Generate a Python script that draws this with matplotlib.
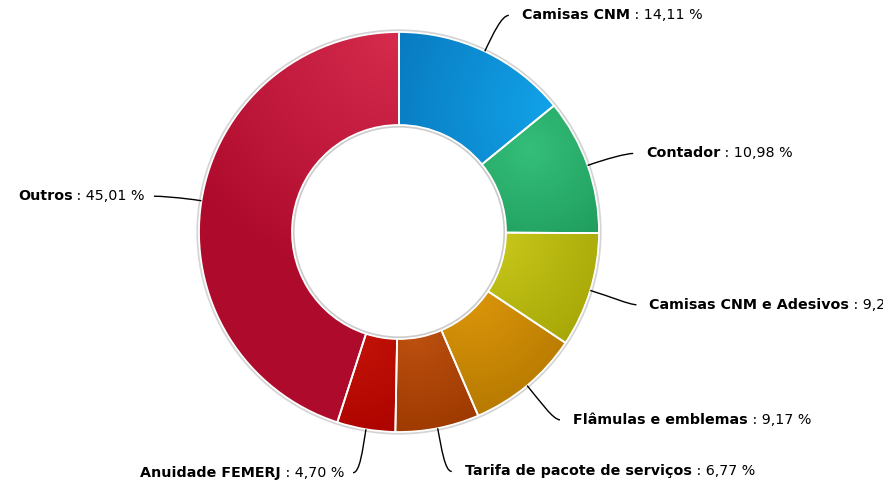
import numpy as np
import matplotlib
matplotlib.use("Agg")
import matplotlib.pyplot as plt
from matplotlib.colors import to_rgb
from matplotlib.patches import PathPatch, Circle
from matplotlib.path import Path

# data
categories = ["Camisas CNM", "Contador", "Camisas CNM e Adesivos",
              "Flâmulas e emblemas", "Tarifa de pacote de serviços",
              "Anuidade FEMERJ", "Outros"]
shares = [14.11, 10.98, 9.26, 9.17, 6.77, 4.70, 45.01]

# style: each slice shades from a light spot to a darker tone
light_colors = ["#12a4ea", "#34be7a", "#cac91c", "#dc960a", "#bc5010", "#c41408", "#d62c4e"]
dark_colors = ["#0878be", "#1f9c5c", "#a4a506", "#b47800", "#9e3a00", "#ae0400", "#ae0a2c"]
glow_spots = [(560, 110), (530, 150), (490, 235), (470, 295), (415, 335), (350, 335), (400, 30)]
glow_reach = [190, 110, 140, 130, 100, 100, 260]

W, H = 883, 487
cx, cy = 399, H - 232
r_out, r_in = 200, 107

fig = plt.figure(figsize=(W / 100, H / 100), dpi=100)
ax = fig.add_axes([0, 0, 1, 1])

wedges, _ = ax.pie(shares, center=(cx, cy), radius=r_out, startangle=90,
                   counterclock=False, colors=light_colors,
                   wedgeprops=dict(width=r_out - r_in, linewidth=0, zorder=1))

# soft shadow rings around the donut
ax.add_patch(Circle((cx, cy), r_out + 0.8, fill=False, ec="#d4d4d4", lw=2.6, zorder=0))
ax.add_patch(Circle((cx, cy), r_in - 0.8, fill=False, ec="#cccccc", lw=2.6, zorder=0))

xs = np.arange(W) + 0.5
ys = np.arange(H) + 0.5
X, Y = np.meshgrid(xs, ys)
for w, lc, dc, (gx, gy), reach in zip(wedges, light_colors, dark_colors, glow_spots, glow_reach):
    t = np.clip(np.hypot(X - gx, Y - (H - gy)) / reach, 0, 1)[..., None]
    img = np.array(to_rgb(lc)) * (1 - t) + np.array(to_rgb(dc)) * t
    im = ax.imshow(img, extent=(0, W, 0, H), origin="lower", zorder=2,
                   interpolation="bilinear")
    im.set_clip_path(w)
    ax.add_patch(PathPatch(w.get_path(), fc="none", ec="white", lw=1.3, zorder=3))

ax.set_xlim(0, W)
ax.set_ylim(0, H)
ax.axis("off")

# labels with soft connectors
fig.canvas.draw()
renderer = fig.canvas.get_renderer()
edges = np.cumsum([0] + shares) / sum(shares) * 360
r_lab = r_out + 42
font = dict(fontsize=10.3, color="black", va="center", zorder=5)
for name, val, a0, a1 in zip(categories, shares, edges[:-1], edges[1:]):
    th = np.deg2rad((a0 + a1) / 2)
    s = 1 if np.sin(th) >= 0 else -1
    ex, ey = cx + r_out * np.sin(th), cy + r_out * np.cos(th)
    lx, ly = cx + r_lab * np.sin(th), cy + r_lab * np.cos(th) - 2
    verts = [(ex, ey), (ex + 20 * np.sin(th), ey + 20 * np.cos(th)),
             (lx - s * 1, ly), (lx + s * 6, ly)]
    codes = [Path.MOVETO, Path.CURVE4, Path.CURVE4, Path.CURVE4]
    ax.add_patch(PathPatch(Path(verts, codes), fc="none", ec="black", lw=1, zorder=4))

    value = " : " + f"{val:.2f}".replace(".", ",") + " %"
    if s > 0:
        t1 = ax.text(lx + 19, ly, name, ha="left", fontweight="bold", **font)
        bb = t1.get_window_extent(renderer)
        ax.text(bb.x1, ly, value, ha="left", **font)
    else:
        t1 = ax.text(lx - 15, ly, value, ha="right", **font)
        bb = t1.get_window_extent(renderer)
        ax.text(bb.x0, ly, name, ha="right", fontweight="bold", **font)

fig.savefig("out.png", dpi=100)
